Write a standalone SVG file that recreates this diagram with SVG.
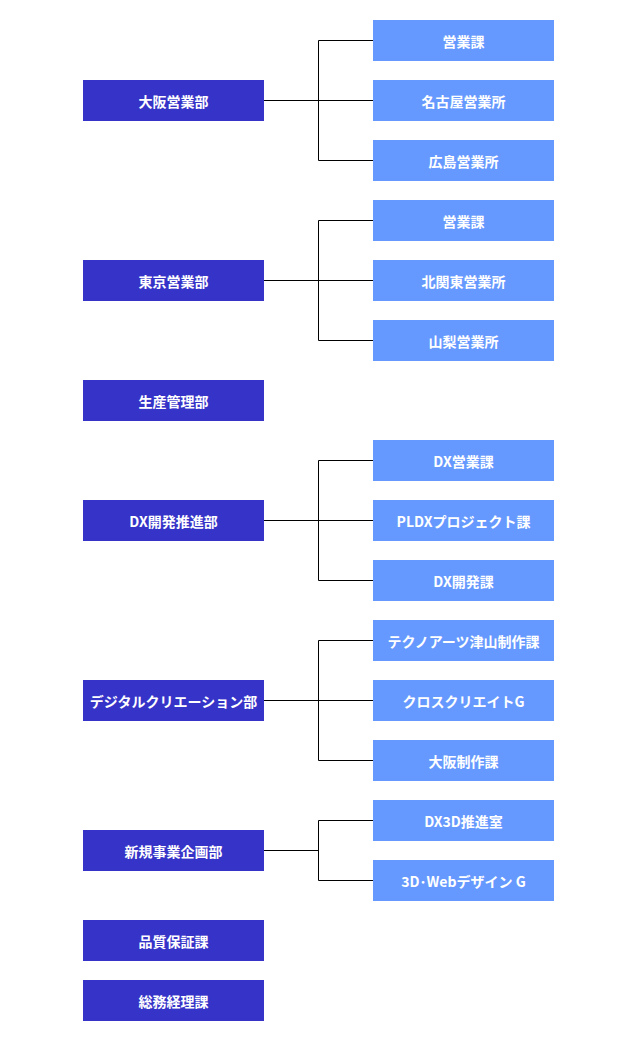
<svg xmlns="http://www.w3.org/2000/svg" width="637" height="1041" viewBox="0 0 637 1041">
<style>
.d{fill:#3633C8}.s{fill:#6699FF}
text{fill:#fff;font-family:"Noto Sans CJK JP","Noto Sans",sans-serif;font-weight:bold;font-size:14px;text-anchor:middle;dominant-baseline:central}
.c{stroke:#000;stroke-width:1;fill:none}
</style>
<rect width="637" height="1041" fill="#fff"/>
<g id="connectors" class="c">
<path d="M264 100.5H318.5M318.5 40.5V160.5M318.5 40.5H373M318.5 100.5H373M318.5 160.5H373"/>
<path d="M264 280.5H318.5M318.5 220.5V340.5M318.5 220.5H373M318.5 280.5H373M318.5 340.5H373"/>
<path d="M264 520.5H318.5M318.5 460.5V580.5M318.5 460.5H373M318.5 520.5H373M318.5 580.5H373"/>
<path d="M264 700.5H318.5M318.5 640.5V760.5M318.5 640.5H373M318.5 700.5H373M318.5 760.5H373"/>
<path d="M264 850.5H318.5M318.5 820.5V880.5M318.5 820.5H373M318.5 880.5H373"/>
</g>
<g id="d1"><rect class="d" x="83" y="80" width="181" height="41"/><text x="173.5" y="100.5">大阪営業部</text></g>
<g id="d2"><rect class="d" x="83" y="260" width="181" height="41"/><text x="173.5" y="280.5">東京営業部</text></g>
<g id="d3"><rect class="d" x="83" y="380" width="181" height="41"/><text x="173.5" y="400.5">生産管理部</text></g>
<g id="d4"><rect class="d" x="83" y="500" width="181" height="41"/><text x="173.5" y="520.5">DX開発推進部</text></g>
<g id="d5"><rect class="d" x="83" y="680" width="181" height="41"/><text x="173.5" y="700.5">デジタルクリエーション部</text></g>
<g id="d6"><rect class="d" x="83" y="830" width="181" height="41"/><text x="173.5" y="850.5">新規事業企画部</text></g>
<g id="d7"><rect class="d" x="83" y="920" width="181" height="41"/><text x="173.5" y="940.5">品質保証課</text></g>
<g id="d8"><rect class="d" x="83" y="980" width="181" height="41"/><text x="173.5" y="1000.5">総務経理課</text></g>
<g id="s1"><rect class="s" x="373" y="20" width="181" height="41"/><text x="463.5" y="40.5">営業課</text></g>
<g id="s2"><rect class="s" x="373" y="80" width="181" height="41"/><text x="463.5" y="100.5">名古屋営業所</text></g>
<g id="s3"><rect class="s" x="373" y="140" width="181" height="41"/><text x="463.5" y="160.5">広島営業所</text></g>
<g id="s4"><rect class="s" x="373" y="200" width="181" height="41"/><text x="463.5" y="220.5">営業課</text></g>
<g id="s5"><rect class="s" x="373" y="260" width="181" height="41"/><text x="463.5" y="280.5">北関東営業所</text></g>
<g id="s6"><rect class="s" x="373" y="320" width="181" height="41"/><text x="463.5" y="340.5">山梨営業所</text></g>
<g id="s7"><rect class="s" x="373" y="440" width="181" height="41"/><text x="463.5" y="460.5">DX営業課</text></g>
<g id="s8"><rect class="s" x="373" y="500" width="181" height="41"/><text x="463.5" y="520.5">PLDXプロジェクト課</text></g>
<g id="s9"><rect class="s" x="373" y="560" width="181" height="41"/><text x="463.5" y="580.5">DX開発課</text></g>
<g id="s10"><rect class="s" x="373" y="620" width="181" height="41"/><text x="463.5" y="640.5">テクノアーツ津山制作課</text></g>
<g id="s11"><rect class="s" x="373" y="680" width="181" height="41"/><text x="463.5" y="700.5">クロスクリエイトG</text></g>
<g id="s12"><rect class="s" x="373" y="740" width="181" height="41"/><text x="463.5" y="760.5">大阪制作課</text></g>
<g id="s13"><rect class="s" x="373" y="800" width="181" height="41"/><text x="463.5" y="820.5">DX3D推進室</text></g>
<g id="s14"><rect class="s" x="373" y="860" width="181" height="41"/><text x="463.5" y="880.5">3D･Webデザイン G</text></g>
</svg>
